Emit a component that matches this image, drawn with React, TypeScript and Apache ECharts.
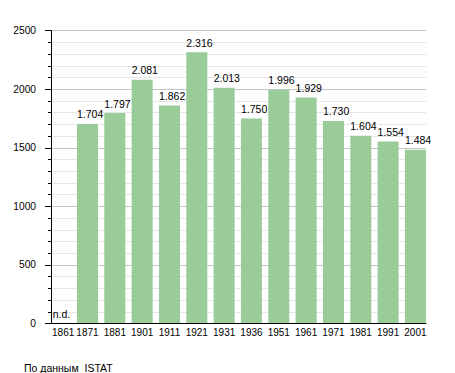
import React, { useEffect, useRef } from "react";
import * as echarts from "echarts";

const years = ["1861", "1871", "1881", "1901", "1911", "1921", "1931", "1936", "1951", "1961", "1971", "1981", "1991", "2001"];
const population: (number | null)[] = [null, 1704, 1797, 2081, 1862, 2316, 2013, 1750, 1996, 1929, 1730, 1604, 1554, 1484];
const yTicks = { min: 0, max: 2500, interval: 500 };
const missingLabel = "n.d.";
const sourceText = "По данным  ISTAT";

const FONT = "'Liberation Sans', Arial, Helvetica, sans-serif";

function fmt(v: number): string {
  return String(v).replace(/\B(?=(\d{3})+(?!\d))/g, ".");
}

export default function App() {
  const ref = useRef<HTMLDivElement>(null);
  useEffect(() => {
    if (!ref.current) return;
    const chart = echarts.init(ref.current, null, { renderer: "svg" });
    const data = population.map((v) =>
      v == null
        ? {
            value: 0,
            label: { formatter: missingLabel, position: [3, -9.5] },
          }
        : { value: v }
    );
    chart.setOption({
      animation: false,
      textStyle: { fontFamily: FONT },
      title: {
        text: sourceText,
        left: 19,
        top: 357,
        textStyle: { fontSize: 10.5, fontWeight: "normal", color: "#000", fontFamily: FONT },
      },
      grid: [
        { left: 51, top: 30.7, width: 375, height: 292.8 },
        { left: 46.5, top: 30.7, width: 382.6, height: 292.8 },
      ],
      xAxis: [
        {
          gridIndex: 0,
          type: "value",
          min: 0,
          max: 1,
          z: 5,
          axisLine: { show: true, lineStyle: { color: "#000", width: 1 } },
          axisTick: { show: false },
          axisLabel: { show: false },
          splitLine: { show: false },
        },
        {
          gridIndex: 1,
          type: "category",
          data: years,
          axisLine: { show: false },
          axisTick: { show: false },
          axisLabel: {
            margin: 4,
            fontSize: 10,
            color: "#000",
            fontFamily: FONT,
            interval: 0,
            formatter: (val: string, idx: number) => (idx === 0 ? "{s|" + val + "}" : val),
            rich: { s: { padding: [0, 0, 0, 6], fontSize: 10, color: "#000", fontFamily: FONT } },
          },
        },
      ],
      yAxis: [
        {
          gridIndex: 0,
          type: "value",
          min: yTicks.min,
          max: yTicks.max,
          interval: yTicks.interval,
          axisLine: { show: true, lineStyle: { color: "#000", width: 1 } },
          axisTick: { show: true, length: 6, lineStyle: { color: "#000" } },
          minorTick: { show: true, splitNumber: 5, length: 3, lineStyle: { color: "#000" } },
          axisLabel: {
            margin: 15,
            fontSize: 10.2,
            color: "#000",
            fontFamily: FONT,
            formatter: (v: number) => String(v),
          },
          splitLine: { show: true, lineStyle: { color: "#c4c4c4", width: 1 } },
          minorSplitLine: { show: true, lineStyle: { color: "#e6e6e6", width: 1 } },
        },
        {
          gridIndex: 1,
          type: "value",
          min: yTicks.min,
          max: yTicks.max,
          show: false,
        },
      ],
      series: [
        {
          type: "bar",
          xAxisIndex: 1,
          yAxisIndex: 1,
          barWidth: 21,
          data,
          itemStyle: { color: "#99cc99" },
          label: {
            show: true,
            position: [0, -9.5],
            align: "left",
            verticalAlign: "middle",
            fontSize: 10.5,
            color: "#000",
            fontFamily: FONT,
            formatter: (p: any) => fmt(p.value),
          },
        },
      ],
    });
    return () => chart.dispose();
  }, []);
  return (
    <div
      ref={ref}
      style={{ position: "absolute", left: 0, top: 0, width: 455, height: 373, background: "#fff" }}
    />
  );
}
